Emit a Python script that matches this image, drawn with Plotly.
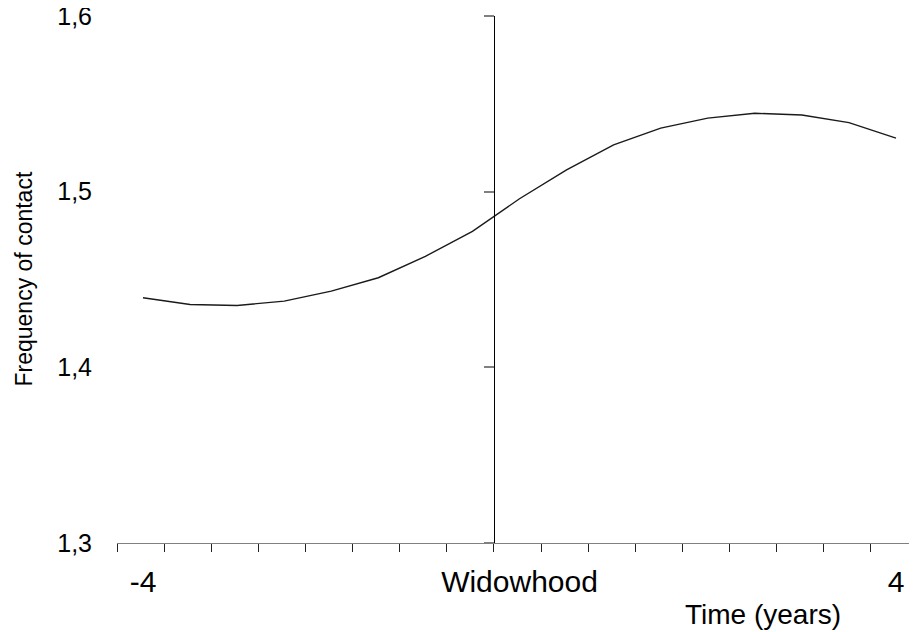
import plotly.graph_objects as go

# Data
years = [-4, -3.5, -3, -2.5, -2, -1.5, -1, -0.5, 0, 0.5, 1, 1.5, 2, 2.5, 3, 3.5, 4]
contact = [1.4396, 1.4358, 1.4352, 1.4377, 1.4434, 1.4510, 1.4632, 1.4774, 1.4960,
           1.5125, 1.5267, 1.5362, 1.5419, 1.5447, 1.5437, 1.5394, 1.5305]
x_label_vals = [-4, 0, 4]
x_label_text = ["-4", "Widowhood", "4"]
y_tick_vals = [1.3, 1.4, 1.5, 1.6]

FONT = "Liberation Sans, Arial, sans-serif"
XR = [-4.2762, 4.2125]
YR = [1.2999, 1.6001]

fig = go.Figure()
fig.add_trace(go.Scatter(x=years, y=contact, mode="lines",
                         line=dict(color="#1a1a1a", width=1.4),
                         hoverinfo="skip", showlegend=False))
fig.add_trace(go.Scatter(x=[], y=[], xaxis="x2", yaxis="y2", showlegend=False))

y_axis_pos = (-0.271 - XR[0]) / (XR[1] - XR[0])

fig.update_layout(
    width=917, height=632,
    margin=dict(l=109, r=9, t=8, b=97, autoexpand=False),
    paper_bgcolor="white", plot_bgcolor="white",
    separators=",.",
    font=dict(family=FONT, color="black"),
    xaxis=dict(range=XR, showgrid=False, zeroline=False, automargin=False,
               showline=True, linecolor="#808080", linewidth=1.2,
               ticks="outside", ticklen=8, tickcolor="#222222", tickwidth=1,
               tick0=-0.271, dtick=0.5, showticklabels=False),
    xaxis2=dict(range=XR, overlaying="x", anchor="y", side="bottom",
                automargin=False,
                showgrid=False, zeroline=False, showline=False, ticks="",
                tickmode="array", tickvals=x_label_vals, ticktext=x_label_text,
                tickfont=dict(size=30, family=FONT), ticklabelstandoff=18,
                ticklabeloverflow="allow"),
    yaxis=dict(range=YR, showgrid=False, zeroline=False, showline=False,
               automargin=False,
               ticks="", tickmode="array", tickvals=y_tick_vals,
               tickformat=".1f", tickfont=dict(size=25, family=FONT),
               ticklabelstandoff=24, ticklabeloverflow="allow"),
    yaxis2=dict(range=YR, overlaying="y", anchor="free", position=y_axis_pos,
                side="left", showgrid=False, zeroline=False, automargin=False,
                showline=True, linecolor="black", linewidth=1.2,
                ticks="outside", ticklen=10, tickcolor="#808080", tickwidth=1.5,
                tickmode="array", tickvals=y_tick_vals, showticklabels=False),
    annotations=[
        dict(text="Frequency of contact", textangle=-90, xref="paper", yref="paper",
             x=(23 - 117) / 799, y=0.5, xanchor="center", yanchor="middle",
             showarrow=False, font=dict(size=23, family=FONT)),
        dict(text="Time (years)", xref="x", yref="paper",
             x=2.587, y=(543 - 614) / 527, xanchor="center", yanchor="middle",
             showarrow=False, font=dict(size=28, family=FONT)),
    ],
)

fig.write_html("out.html")
